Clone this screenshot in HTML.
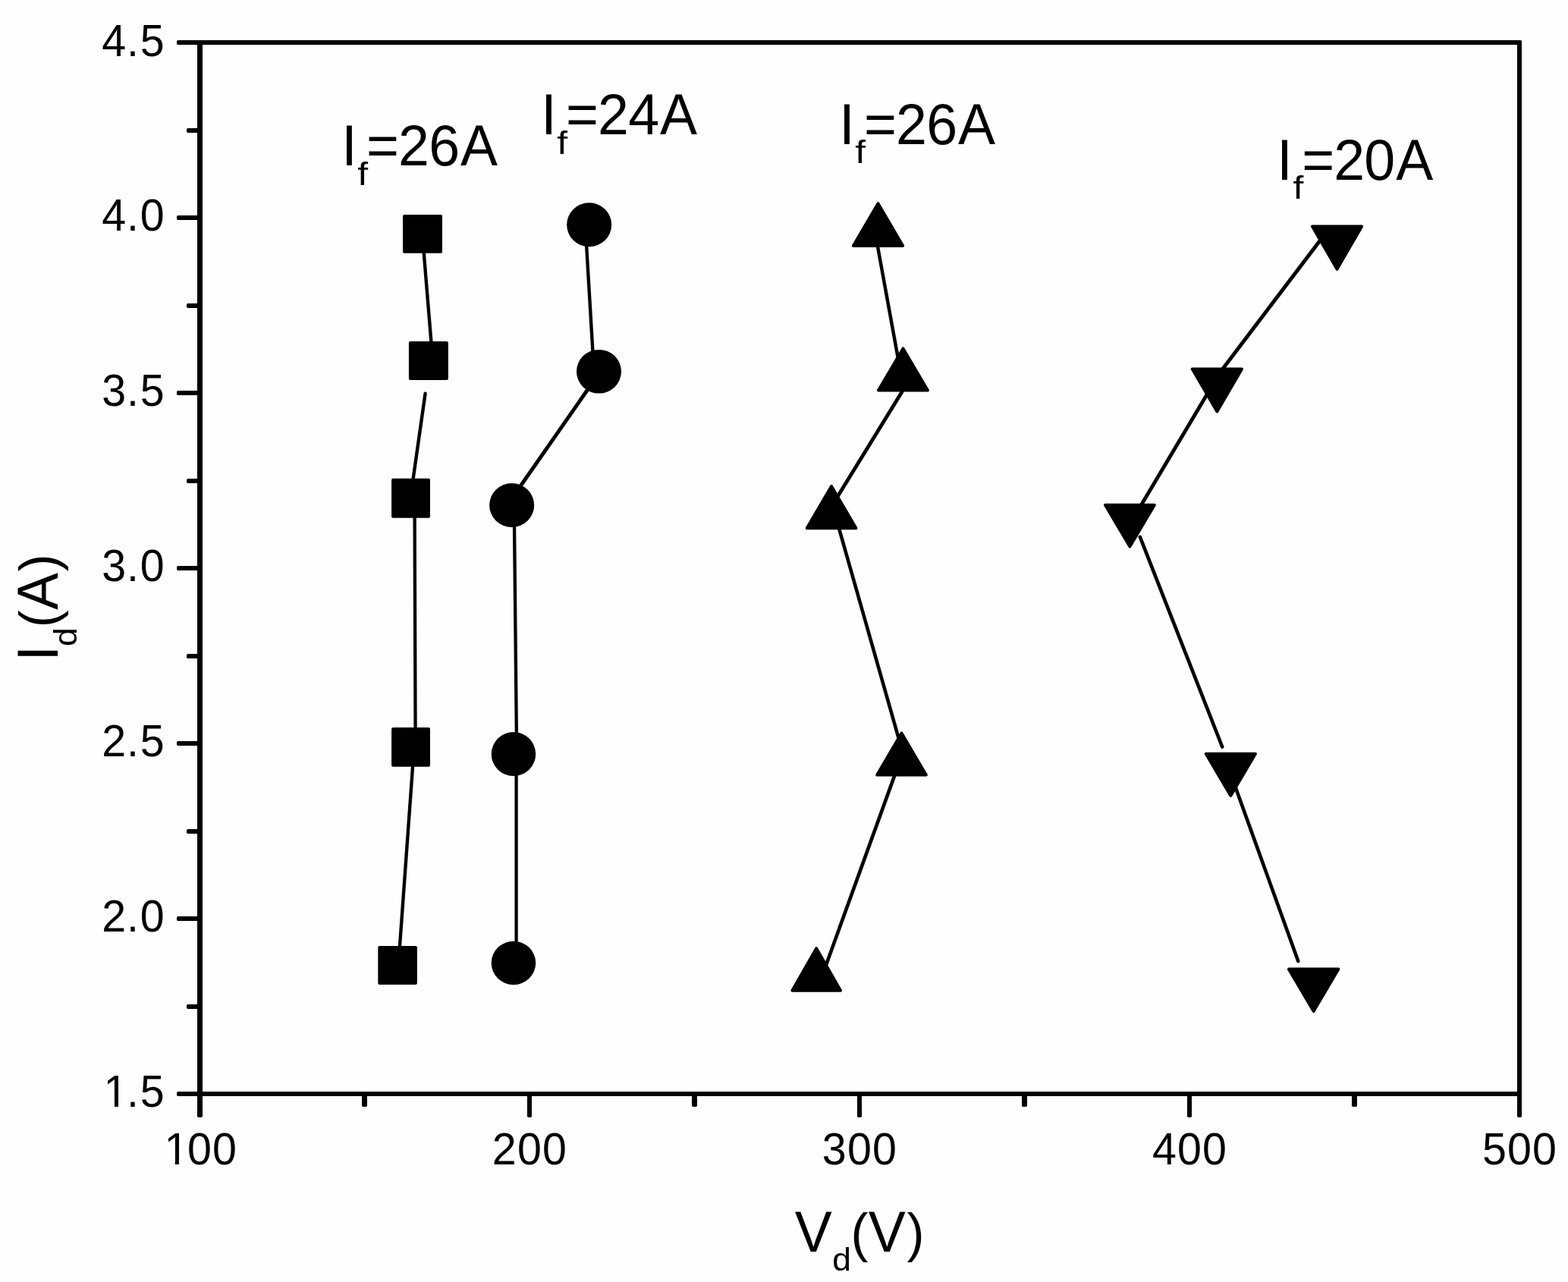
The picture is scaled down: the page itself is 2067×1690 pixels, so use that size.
<!DOCTYPE html>
<html lang="en"><head><meta charset="utf-8"><title>Id vs Vd</title>
<style>html,body{margin:0;padding:0;background:#fefefe;}body{width:2067px;height:1690px;overflow:hidden;}svg{display:block;}text{font-family:"Liberation Sans",sans-serif;fill:#000;}</style>
</head><body>
<svg width="2067" height="1690" viewBox="0 0 2067 1690">
<rect x="0" y="0" width="2067" height="1690" fill="#fefefe"/>
<g fill="#000">
<rect x="233.00" y="53.00" width="1771.00" height="6.00" rx="1.8"/>
<rect x="233.00" y="1439.00" width="1771.00" height="6.00" rx="1.8"/>
<rect x="260.00" y="53.00" width="7.00" height="1420.00" rx="1.8"/>
<rect x="2000.00" y="53.00" width="6.00" height="1420.00" rx="1.8"/>
<rect x="233.00" y="284.00" width="30.00" height="6.00" rx="1.8"/>
<rect x="233.00" y="515.00" width="30.00" height="6.00" rx="1.8"/>
<rect x="233.00" y="746.00" width="30.00" height="6.00" rx="1.8"/>
<rect x="233.00" y="977.00" width="30.00" height="6.00" rx="1.8"/>
<rect x="233.00" y="1208.00" width="30.00" height="6.00" rx="1.8"/>
<rect x="246.00" y="169.00" width="17.00" height="6.00" rx="1.8"/>
<rect x="246.00" y="400.00" width="17.00" height="6.00" rx="1.8"/>
<rect x="246.00" y="631.00" width="17.00" height="6.00" rx="1.8"/>
<rect x="246.00" y="862.00" width="17.00" height="6.00" rx="1.8"/>
<rect x="246.00" y="1093.00" width="17.00" height="6.00" rx="1.8"/>
<rect x="246.00" y="1324.00" width="17.00" height="6.00" rx="1.8"/>
<rect x="695.00" y="1441.00" width="6.00" height="32.00" rx="1.8"/>
<rect x="1130.00" y="1441.00" width="6.00" height="32.00" rx="1.8"/>
<rect x="1565.00" y="1441.00" width="6.00" height="32.00" rx="1.8"/>
<rect x="477.00" y="1441.00" width="7.00" height="18.00" rx="1.8"/>
<rect x="912.00" y="1441.00" width="7.00" height="18.00" rx="1.8"/>
<rect x="1347.00" y="1441.00" width="7.00" height="18.00" rx="1.8"/>
<rect x="1782.00" y="1441.00" width="7.00" height="18.00" rx="1.8"/>
</g>
<text transform="translate(0 73.50) scale(1 1.025)" x="134.30 166.90 184.70" y="0" font-size="57.40">4.5</text>
<text transform="translate(0 304.47) scale(1 1.025)" x="134.30 166.90 184.70" y="0" font-size="57.40">4.0</text>
<text transform="translate(0 535.45) scale(1 1.025)" x="134.30 166.90 184.70" y="0" font-size="57.40">3.5</text>
<text transform="translate(0 766.42) scale(1 1.025)" x="134.30 166.90 184.70" y="0" font-size="57.40">3.0</text>
<text transform="translate(0 997.40) scale(1 1.025)" x="134.30 166.90 184.70" y="0" font-size="57.40">2.5</text>
<text transform="translate(0 1228.38) scale(1 1.025)" x="134.30 166.90 184.70" y="0" font-size="57.40">2.0</text>
<text transform="translate(0 1459.35) scale(1 1.025)" x="136.50 166.90 184.70" y="0" font-size="57.40">1.5</text>
<rect x="138.80" y="1453.16" width="12.14" height="7.39" fill="#fefefe"/>
<rect x="156.00" y="1453.16" width="11.48" height="7.39" fill="#fefefe"/>
<text transform="translate(0 1534.90) scale(1 1.025)" x="216.40 246.90 280.00" y="0" font-size="57.40">100</text>
<rect x="218.70" y="1528.71" width="12.14" height="7.39" fill="#fefefe"/>
<rect x="235.90" y="1528.71" width="11.48" height="7.39" fill="#fefefe"/>
<text transform="translate(0 1534.90) scale(1 1.025)" x="648.83 681.93 715.03" y="0" font-size="57.40">200</text>
<text transform="translate(0 1534.90) scale(1 1.025)" x="1083.86 1116.96 1150.06" y="0" font-size="57.40">300</text>
<text transform="translate(0 1534.90) scale(1 1.025)" x="1518.89 1551.99 1585.09" y="0" font-size="57.40">400</text>
<text transform="translate(0 1534.90) scale(1 1.025)" x="1953.92 1987.02 2020.12" y="0" font-size="57.40">500</text>
<text transform="translate(1047.85 1649.9) scale(1 1.03)" font-size="73.5"><tspan x="0" dy="0">V</tspan><tspan x="49.3" dy="24.56" font-size="40.6" textLength="24.7" lengthAdjust="spacingAndGlyphs">d</tspan><tspan x="73.75" dy="-25.24" font-size="69">(</tspan><tspan x="96.85" dy="0.68">V</tspan><tspan x="147.7" dy="-0.68" font-size="69">)</tspan></text>
<text transform="translate(76 871.55) rotate(-90) scale(1 1.03)" font-size="73.5"><tspan x="0" dy="0">I</tspan><tspan x="19.6" dy="24.56" font-size="40.6" textLength="24.7" lengthAdjust="spacingAndGlyphs">d</tspan><tspan x="44.25" dy="-25.24" font-size="69">(</tspan><tspan x="67.55" dy="0.68">A</tspan><tspan x="118.15" dy="-0.68" font-size="69">)</tspan></text>
<text transform="translate(450.2 217.6) scale(1 1.03)" font-size="73.5"><tspan x="0" dy="0">I</tspan><tspan x="21.1" dy="25.24" font-size="41.3" textLength="13.84" lengthAdjust="spacingAndGlyphs">f</tspan><tspan x="32.85 74.85 115.05 156.85" dy="-25.24">=26A</tspan></text>
<text transform="translate(713.2 177.2) scale(1 1.03)" font-size="73.5"><tspan x="0" dy="0">I</tspan><tspan x="21.1" dy="25.24" font-size="41.3" textLength="13.84" lengthAdjust="spacingAndGlyphs">f</tspan><tspan x="32.85 74.85 115.05 156.85" dy="-25.24">=24A</tspan></text>
<text transform="translate(1106.2 189.9) scale(1 1.03)" font-size="73.5"><tspan x="0" dy="0">I</tspan><tspan x="21.1" dy="24.17" font-size="41.3" textLength="13.84" lengthAdjust="spacingAndGlyphs">f</tspan><tspan x="32.85 74.85 115.05 156.85" dy="-24.17">=26A</tspan></text>
<text transform="translate(1683.3 236.8) scale(1 1.03)" font-size="73.5"><tspan x="0" dy="0">I</tspan><tspan x="21.1" dy="24.17" font-size="41.3" textLength="13.84" lengthAdjust="spacingAndGlyphs">f</tspan><tspan x="32.85 74.85 115.05 156.85" dy="-24.17">=20A</tspan></text>
<g fill="none" stroke="#000" stroke-linecap="round">
<line x1="556.70" y1="308.50" x2="569.00" y2="458.00" stroke-width="4.38"/>
<line x1="560.60" y1="518.70" x2="543.80" y2="637.00" stroke-width="4.44"/>
<line x1="546.60" y1="675.00" x2="547.60" y2="965.00" stroke-width="4.30"/>
<line x1="544.60" y1="1003.00" x2="526.50" y2="1254.00" stroke-width="4.37"/>
<line x1="772.60" y1="315.00" x2="781.60" y2="466.00" stroke-width="4.36"/>
<line x1="777.20" y1="510.00" x2="684.20" y2="643.50" stroke-width="4.87"/>
<line x1="678.00" y1="690.00" x2="680.90" y2="970.00" stroke-width="4.31"/>
<line x1="680.60" y1="1015.00" x2="680.60" y2="1250.00" stroke-width="4.30"/>
<line x1="1156.20" y1="320.60" x2="1183.70" y2="471.50" stroke-width="4.48"/>
<line x1="1192.40" y1="511.10" x2="1103.60" y2="655.40" stroke-width="4.82"/>
<line x1="1104.90" y1="692.70" x2="1184.40" y2="972.40" stroke-width="4.57"/>
<line x1="1180.80" y1="1018.10" x2="1088.50" y2="1273.40" stroke-width="4.64"/>
<line x1="1743.20" y1="313.10" x2="1609.00" y2="490.00" stroke-width="4.90"/>
<line x1="1592.70" y1="517.20" x2="1502.30" y2="669.30" stroke-width="4.81"/>
<line x1="1502.90" y1="708.00" x2="1611.20" y2="984.50" stroke-width="4.66"/>
<line x1="1628.00" y1="1036.00" x2="1711.30" y2="1267.00" stroke-width="4.64"/>
</g>
<g fill="#000">
<rect x="531.00" y="283.10" width="52.00" height="50.70" rx="2" ry="2"/>
<rect x="538.90" y="450.00" width="52.00" height="50.90" rx="2" ry="2"/>
<rect x="516.10" y="630.70" width="50.90" height="52.00" rx="2" ry="2"/>
<rect x="516.10" y="959.10" width="50.90" height="51.60" rx="2" ry="2"/>
<rect x="498.30" y="1247.10" width="51.60" height="50.90" rx="2" ry="2"/>
<ellipse cx="776.70" cy="296.30" rx="29.50" ry="29.00"/>
<ellipse cx="789.50" cy="489.75" rx="29.50" ry="28.85"/>
<ellipse cx="674.65" cy="666.00" rx="29.55" ry="29.00"/>
<ellipse cx="676.95" cy="994.00" rx="29.25" ry="29.00"/>
<ellipse cx="676.95" cy="1269.45" rx="29.25" ry="28.75"/>
</g>
<g fill="#000" stroke="#000" stroke-width="4" stroke-linejoin="round">
<polygon points="1157.50,268.30 1190.10,324.10 1124.90,324.10"/>
<polygon points="1190.45,459.40 1222.90,514.60 1158.00,514.60"/>
<polygon points="1096.05,641.00 1128.40,696.20 1063.70,696.20"/>
<polygon points="1188.50,966.40 1220.80,1021.60 1156.20,1021.60"/>
<polygon points="1076.20,1250.20 1108.00,1305.70 1044.40,1305.70"/>
<polygon points="1730.00,298.40 1795.10,298.40 1762.55,354.80"/>
<polygon points="1571.80,486.50 1637.00,486.50 1604.40,542.40"/>
<polygon points="1457.00,665.80 1521.80,665.80 1489.40,720.60"/>
<polygon points="1589.80,993.80 1654.90,993.80 1622.35,1048.90"/>
<polygon points="1698.90,1277.60 1764.40,1277.60 1731.65,1333.10"/>
</g>
</svg>
</body></html>
